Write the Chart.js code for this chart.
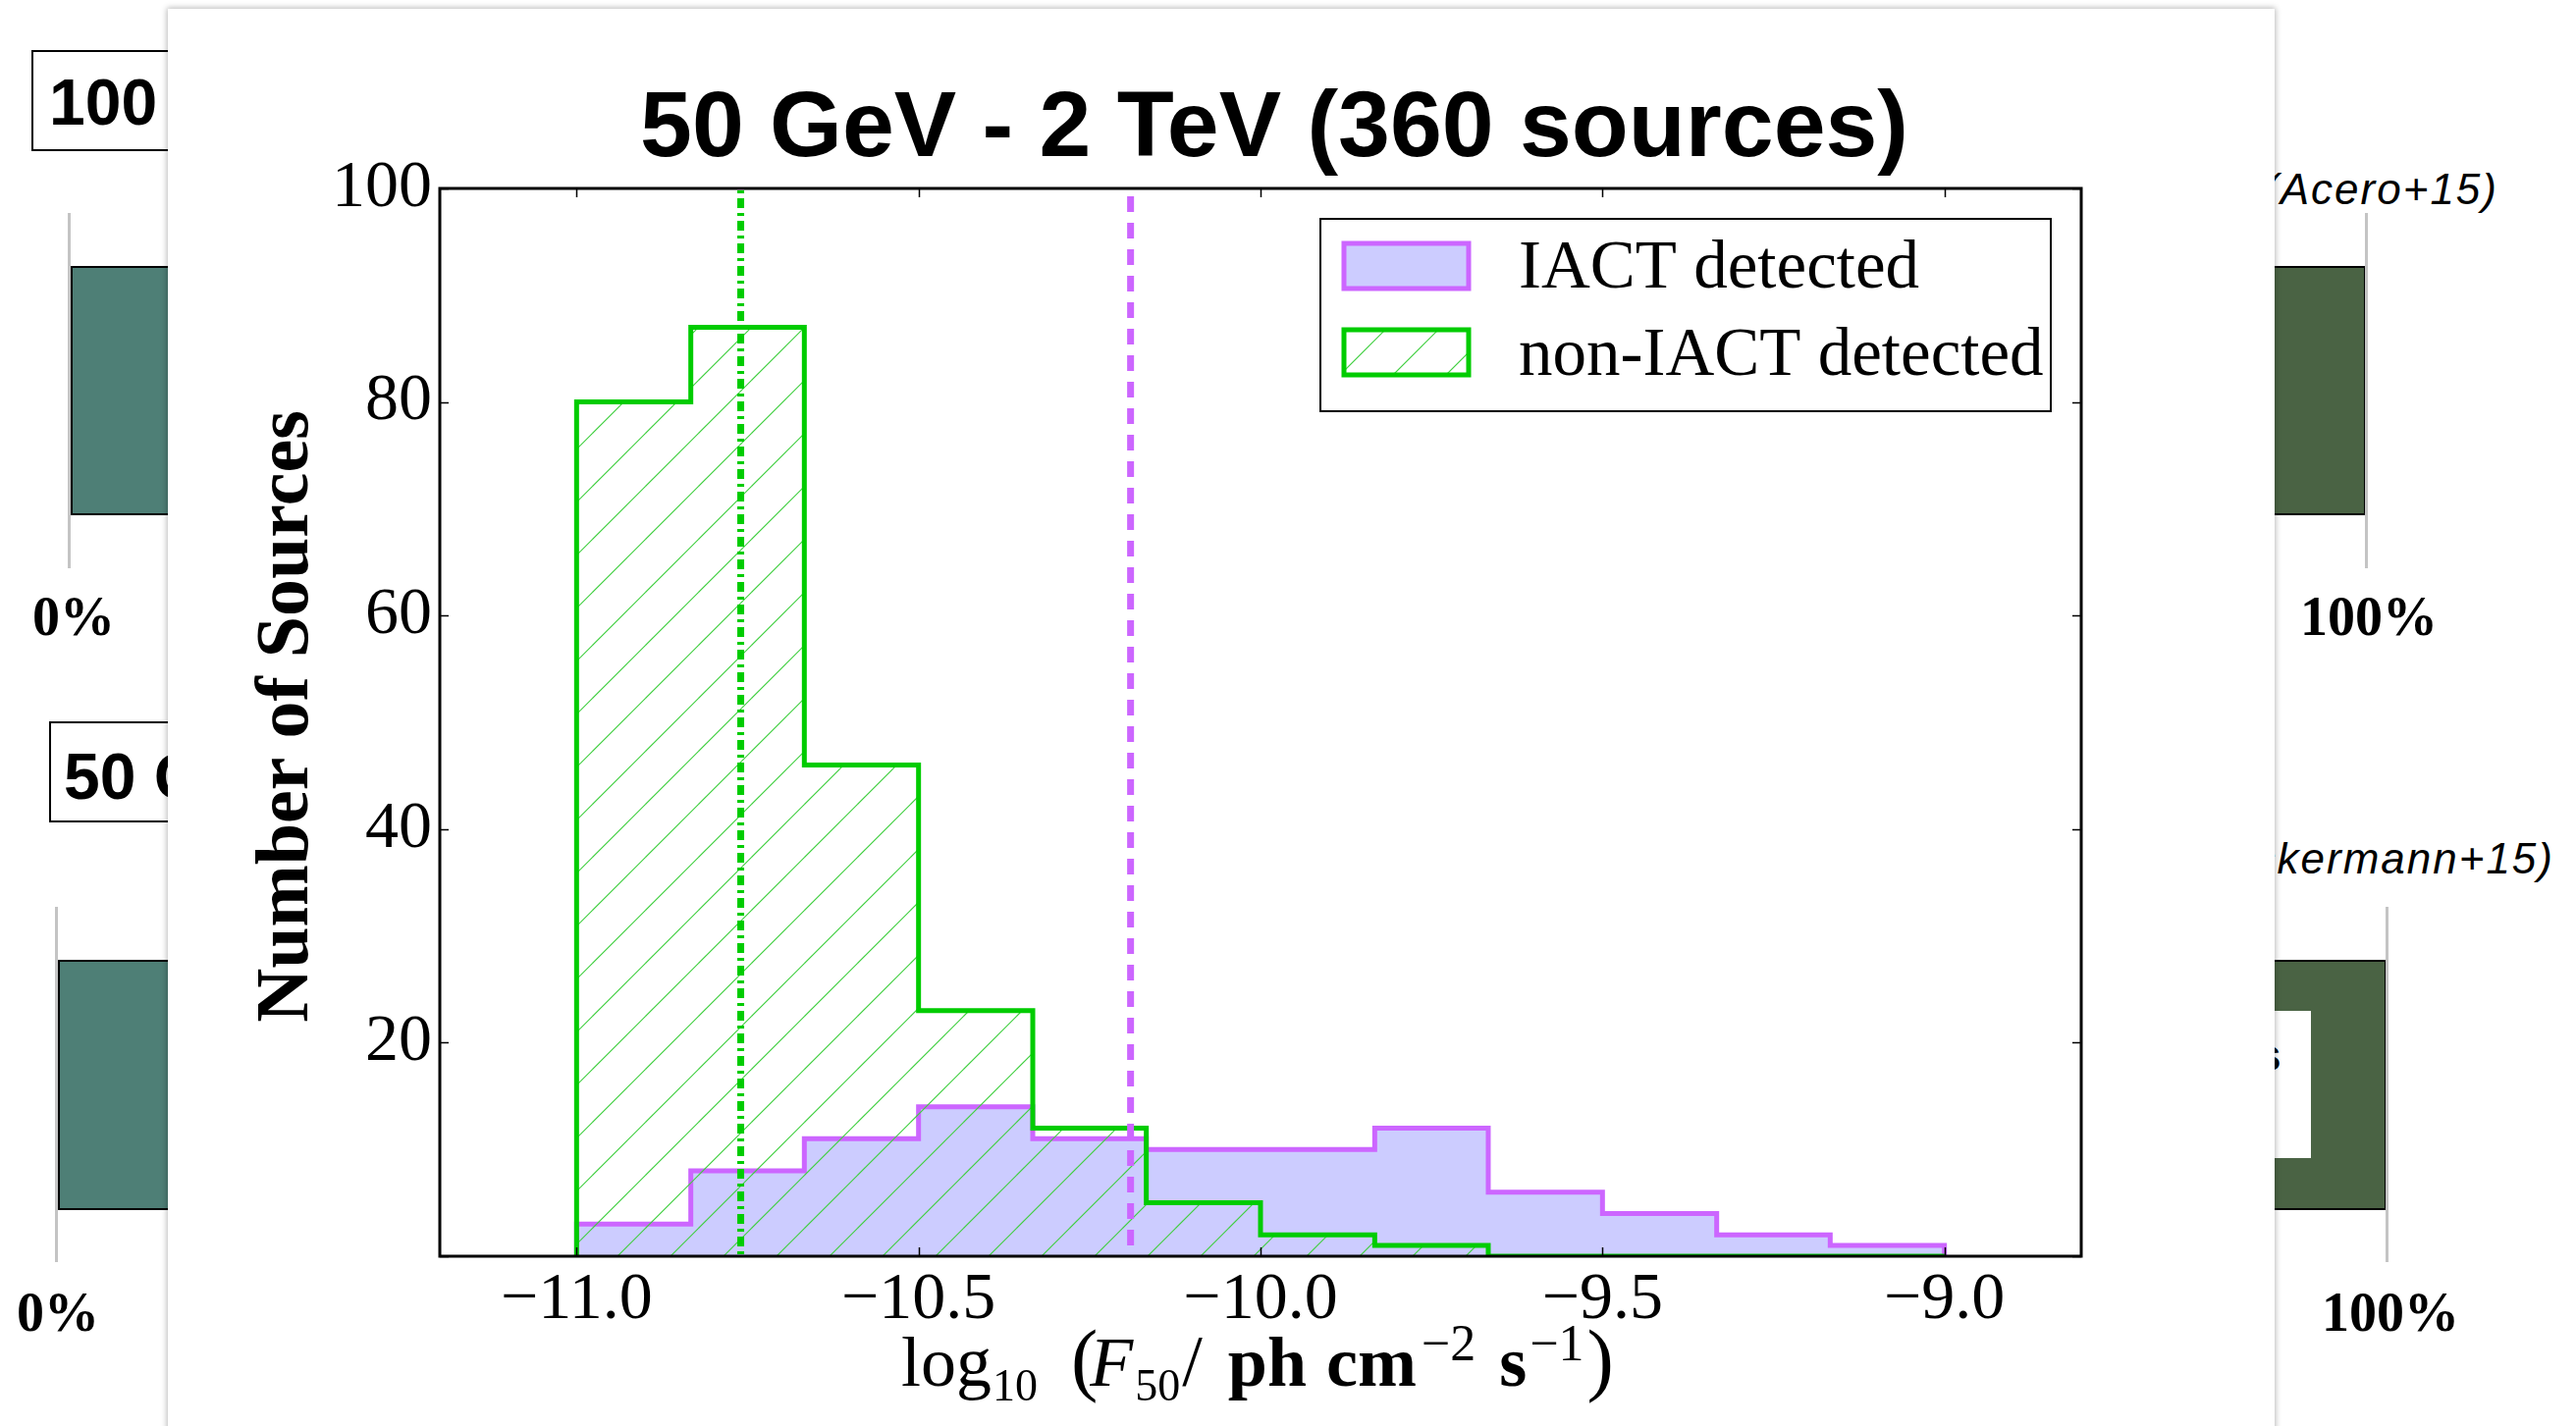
<!DOCTYPE html>
<html>
<head>
<meta charset="utf-8">
<script src="https://cdn.jsdelivr.net/npm/chart.js@4.4.1/dist/chart.umd.min.js"></script>
<style>
  html, body { margin: 0; padding: 0; background: #fff; }
  body { width: 2624px; height: 1453px; position: relative; overflow: hidden; }
  .abs { position: absolute; white-space: nowrap; line-height: 1; }
  .box { position: absolute; border: 2.5px solid #000; box-sizing: border-box; background: #fff; }
  .sans-b { font-family: "Liberation Sans", Arial, sans-serif; font-weight: bold; }
  .serif-b { font-family: "Liberation Serif", "Times New Roman", serif; font-weight: bold; }
  .sans-i { font-family: "Liberation Sans", Arial, sans-serif; font-style: italic; letter-spacing: 2px; }
  .vline { position: absolute; width: 2.5px; background: #c4c4c4; }
  .bar { position: absolute; border: 2.5px solid #000; box-sizing: border-box; }
  #panel { position: absolute; left: 171px; top: 9px; width: 2146px; height: 1470px; background: #fff;
           box-shadow: 0 0 6px 1px rgba(0,0,0,0.28); }
  #chart { position: absolute; left: 0; top: 0; }
</style>
</head>
<body>
<!-- slide behind the figure -->
<div class="box" style="left:32px; top:51px; width:300px; height:103px;"></div>
<div class="abs sans-b" style="left:50px; top:71px; font-size:66px;">100</div>
<div class="vline" style="left:69px; top:217px; height:362px;"></div>
<div class="bar" style="left:72px; top:271px; width:300px; height:254px; background:#4e7f76;"></div>
<div class="abs serif-b" style="left:33px; top:600px; font-size:56px;">0%</div>

<div class="box" style="left:50px; top:735px; width:300px; height:103px;"></div>
<div class="abs sans-b" style="left:65px; top:758px; font-size:66px;">50 G</div>
<div class="vline" style="left:56px; top:924px; height:362px;"></div>
<div class="bar" style="left:59px; top:978px; width:300px; height:255px; background:#4e7f76;"></div>
<div class="abs serif-b" style="left:17px; top:1309px; font-size:56px;">0%</div>

<div class="abs sans-i" style="right:79px; top:171px; font-size:44px;">(Acero+15)</div>
<div class="bar" style="left:2100px; top:271px; width:310px; height:254px; background:#4a6344;"></div>
<div class="vline" style="left:2409px; top:217px; height:362px;"></div>
<div class="abs serif-b" style="left:2343px; top:600px; font-size:56px;">100%</div>

<div class="abs sans-i" style="right:22px; top:853px; font-size:44px;">(Ackermann+15)</div>
<div class="bar" style="left:2100px; top:978px; width:331px; height:255px; background:#4a6344;"></div>
<div style="position:absolute; left:2200px; top:1030px; width:154px; height:150px; background:#fff;"></div>
<div class="abs sans-b" style="left:2298px; top:1052px; font-size:46px;">s</div>
<div class="vline" style="left:2430px; top:924px; height:362px;"></div>
<div class="abs serif-b" style="left:2365px; top:1309px; font-size:56px;">100%</div>

<!-- figure panel -->
<div id="panel"><canvas id="chart" width="2146" height="1444"></canvas></div>

<script>
// histogram bins (log10 flux), counts per bin
const binEdges = [-11.0, -10.833, -10.667, -10.5, -10.333, -10.167, -10.0, -9.833, -9.667, -9.5, -9.333, -9.167, -9.0];
const iactCounts = [3, 8, 11, 14, 11, 10, 10, 12, 6, 4, 2, 1];
const nonIactCounts = [80, 87, 46, 23, 12, 5, 2, 1, 0, 0, 0, 0];
// median lines
const iactMedian = -10.19;
const nonIactMedian = -10.76;
// axes
const xTicks = [-11.0, -10.5, -10.0, -9.5, -9.0];
const yTicks = [0, 20, 40, 60, 80, 100];
const seriesLabels = ['IACT detected', 'non-IACT detected'];

const PURPLE = '#cc66ff';
const PURPLE_FILL = '#ccccff';
const GREEN = '#00cc00';
const OX = 171, OY = 9; // panel offset on the page

// step outline points for a histogram
function stepPoints(counts) {
    const last = binEdges.length - 1;
    const pts = [{ x: binEdges[0], y: 0 }];
    counts.forEach((c, i) => pts.push({ x: binEdges[i], y: c }));
    pts.push({ x: binEdges[last], y: counts[counts.length - 1] });
    pts.push({ x: binEdges[last], y: 0 });
    return pts;
}

// '/' hatch pattern, anchored to canvas origin
function makeHatch() {
    const p = document.createElement('canvas');
    p.width = 54; p.height = 54;
    const c = p.getContext('2d');
    c.strokeStyle = '#3fcf3f';
    c.lineWidth = 1.2;
    [1, 55, 109].forEach(k => {
        c.beginPath();
        c.moveTo(k + 10, -10);
        c.lineTo(-10, k + 10);
        c.stroke();
    });
    return c.createPattern(p, 'repeat');
}

const fmtTick = v => (v < 0 ? '\u2212' : '') + Math.abs(v).toFixed(1);

const framePlugin = {
    id: 'frame',
    afterDatasetsDraw(chart) {
        const { ctx, chartArea: a, scales: { x, y } } = chart;
        ctx.save();
        ctx.strokeStyle = '#000';
        ctx.lineWidth = 1.5;
        const tl = 9;
        ctx.beginPath();
        xTicks.forEach(v => {
            const px = Math.round(x.getPixelForValue(v)) + 0.5;
            ctx.moveTo(px, a.bottom); ctx.lineTo(px, a.bottom - tl);
            ctx.moveTo(px, a.top); ctx.lineTo(px, a.top + tl);
        });
        yTicks.forEach(v => {
            const py = Math.round(y.getPixelForValue(v)) + 0.5;
            ctx.moveTo(a.left, py); ctx.lineTo(a.left + tl, py);
            ctx.moveTo(a.right, py); ctx.lineTo(a.right - tl, py);
        });
        ctx.stroke();
        ctx.lineWidth = 3;
        ctx.strokeRect(a.left, a.top, a.right - a.left, a.bottom - a.top);
        ctx.restore();
    }
};

const textPlugin = {
    id: 'texts',
    afterDraw(chart) {
        const ctx = chart.ctx;
        ctx.save();
        ctx.fillStyle = '#000';
        ctx.textBaseline = 'alphabetic';

        // title
        ctx.font = 'bold 95px "Liberation Sans", Arial, sans-serif';
        ctx.textAlign = 'center';
        ctx.fillText('50 GeV - 2 TeV (360 sources)', 1298 - OX, 159 - OY);

        // y label
        ctx.save();
        ctx.translate(313 - OX, 730 - OY);
        ctx.rotate(-Math.PI / 2);
        ctx.font = 'bold 76px "Liberation Serif", serif';
        ctx.fillText('Number of Sources', 0, 0);
        ctx.restore();

        // x label with sub/superscripts, laid out left to right
        ctx.textAlign = 'left';
        const base = 1412 - OY;
        const R = '"Liberation Serif", serif';
        const parts = [
            // text, gap before, baseline shift, font
            ['log', 0, 0, '72px ' + R],
            ['10', 1, 15, '46px ' + R],
            ['(', 34, 0, '82px ' + R],
            ['F', -8, 0, 'italic 72px ' + R],
            ['50', 2, 15, '46px ' + R],
            ['/', 2, 0, '74px ' + R],
            ['ph', 26, 0, 'bold 72px ' + R],
            ['cm', 20, 0, 'bold 72px ' + R],
            ['\u22122', 5, -26, '52px ' + R],
            ['s', 24, 0, 'bold 72px ' + R],
            ['\u22121', 3, -26, '52px ' + R],
            [')', 3, 0, '82px ' + R]
        ];
        let cx = 918 - OX;
        parts.forEach(([t, gap, dy, f]) => {
            ctx.font = f;
            cx += gap;
            ctx.fillText(t, cx, base + dy);
            cx += ctx.measureText(t).width;
        });

        // legend
        const lx = 1345 - OX, ly = 223 - OY, lw = 744, lh = 196;
        ctx.fillStyle = '#fff';
        ctx.fillRect(lx, ly, lw, lh);
        ctx.strokeStyle = '#000';
        ctx.lineWidth = 2;
        ctx.strokeRect(lx, ly, lw, lh);

        const sx = 1369 - OX, sw = 127, sh = 46;
        const rows = [
            { y: 248 - OY, fill: PURPLE_FILL, edge: PURPLE, text: seriesLabels[0], base: 293 - OY },
            { y: 336 - OY, fill: hatch, edge: GREEN, text: seriesLabels[1], base: 382 - OY }
        ];
        rows.forEach(r => {
            ctx.fillStyle = r.fill;
            ctx.fillRect(sx, r.y, sw, sh);
            ctx.strokeStyle = r.edge;
            ctx.lineWidth = 5;
            ctx.strokeRect(sx, r.y, sw, sh);
            ctx.fillStyle = '#000';
            ctx.font = '69px "Liberation Serif", serif';
            ctx.fillText(r.text, 1547 - OX, r.base);
        });
        ctx.restore();
    }
};

const canvas = document.getElementById('chart');
const hatch = makeHatch();

new Chart(canvas.getContext('2d'), {
    type: 'line',
    data: {
        datasets: [
            {
                label: seriesLabels[0],
                data: stepPoints(iactCounts),
                stepped: true,
                borderColor: PURPLE,
                borderWidth: 5,
                backgroundColor: PURPLE_FILL,
                fill: 'origin',
                pointRadius: 0,
                order: 4
            },
            {
                label: seriesLabels[1],
                data: stepPoints(nonIactCounts),
                stepped: true,
                borderColor: GREEN,
                borderWidth: 5,
                backgroundColor: hatch,
                fill: 'origin',
                pointRadius: 0,
                order: 3
            },
            {
                label: 'IACT median',
                data: [{ x: iactMedian, y: 100 }, { x: iactMedian, y: 0 }],
                borderColor: PURPLE,
                borderWidth: 7,
                borderDash: [16, 11],
                borderDashOffset: -8,
                fill: false,
                pointRadius: 0,
                order: 2
            },
            {
                label: 'non-IACT median',
                data: [{ x: nonIactMedian, y: 100 }, { x: nonIactMedian, y: 0 }],
                borderColor: GREEN,
                borderWidth: 7,
                borderDash: [10, 5, 3, 5],
                borderDashOffset: -10,
                fill: false,
                pointRadius: 0,
                order: 1
            }
        ]
    },
    options: {
        responsive: false,
        animation: false,
        devicePixelRatio: 1,
        layout: { padding: { left: 0, top: 183, right: 197, bottom: 0 } },
        plugins: {
            legend: { display: false },
            tooltip: { enabled: false },
            title: { display: false }
        },
        scales: {
            x: {
                type: 'linear',
                min: -11.2,
                max: -8.8,
                afterFit: s => { s.height = 173; },
                afterBuildTicks: s => { s.ticks = xTicks.map(v => ({ value: v })); },
                ticks: {
                    callback: v => fmtTick(v),
                    color: '#000',
                    font: { family: 'Liberation Serif', size: 68 },
                    padding: -4,
                    maxRotation: 0,
                    autoSkip: false
                },
                grid: { display: false },
                border: { display: false }
            },
            y: {
                min: 0,
                max: 100,
                afterFit: s => { s.width = 277; },
                afterBuildTicks: s => { s.ticks = yTicks.map(v => ({ value: v })); },
                ticks: {
                    callback: v => (v === 0 ? '' : String(v)),
                    color: '#000',
                    font: { family: 'Liberation Serif', size: 68 },
                    padding: 0
                },
                grid: { display: false },
                border: { display: false }
            }
        }
    },
    plugins: [framePlugin, textPlugin]
});
</script>
</body>
</html>
